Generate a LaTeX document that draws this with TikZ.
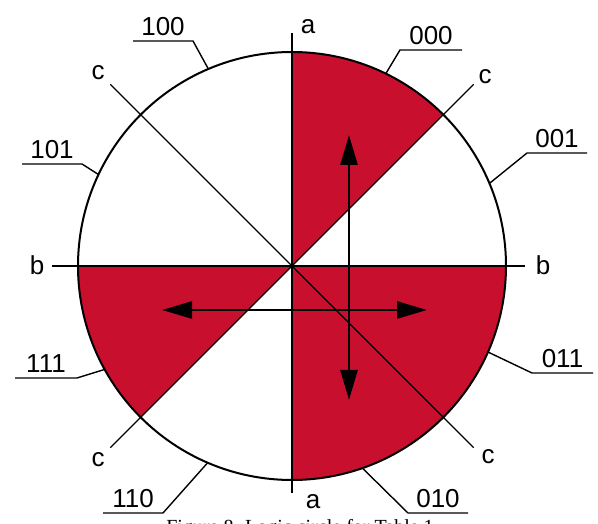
\documentclass[tikz,border=0pt]{standalone}
\usepackage{fontspec}
\setmainfont{Liberation Sans}
\newfontfamily\captionserif{Liberation Serif}
\usetikzlibrary{arrows.meta,calc}
\definecolor{logicRed}{RGB}{200,16,46}

\begin{document}
\begin{tikzpicture}[x=1pt,y=1pt,
  rim/.style={line width=2pt},
  axisline/.style={line width=1.8pt},
  cutline/.style={line width=1.3pt},
  leader/.style={line width=1.4pt},
  letter/.style={font=\fontsize{26}{26}\selectfont, inner sep=0pt},
  code/.style={font=\fontsize{26}{26}\selectfont, inner sep=0pt, above=5pt},
  move/.style={line width=2.6pt, {Triangle[length=30pt,width=17pt]}-{Triangle[length=30pt,width=17pt]}}]
  \useasboundingbox (0,0) rectangle (598,523);
  \clip (0,0) rectangle (598,523);
  \coordinate (C) at (292,257);

  % red sectors
  \fill[logicRed] (C) -- ([shift={(45:214)}]C) arc[start angle=45, end angle=90, radius=214] -- cycle;
  \fill[logicRed] (C) -- ([shift={(180:214)}]C) arc[start angle=180, end angle=225, radius=214] -- cycle;
  \fill[logicRed] (C) -- ([shift={(270:214)}]C) arc[start angle=270, end angle=360, radius=214] -- cycle;
  \draw[rim] (C) circle[radius=214];

  % a, b and c lines
  \coordinate (aTop) at (292,490);
  \coordinate (aBot) at (292,30);
  \coordinate (bLeft) at (52,257);
  \coordinate (bRight) at (525,257);
  \coordinate (cNW) at ([shift={(135:257)}]C);
  \coordinate (cSE) at ([shift={(-45:257)}]C);
  \coordinate (cNE) at ([shift={(45:257)}]C);
  \coordinate (cSW) at ([shift={(225:257)}]C);
  \draw[axisline] (aTop) -- (aBot);
  \draw[axisline] (bLeft) -- (bRight);
  \draw[cutline] (cNW) -- (cSE);
  \draw[cutline] (cSW) -- (cNE);
  \node[letter] (aUp) at (308,496) {a};
  \node[letter] (aDown) at (313,21) {a};
  \node[letter] (bW) at (37,258) {b};
  \node[letter] (bE) at (543,258) {b};
  \node[letter] (cUpL) at (98,450) {c};
  \node[letter] (cUpR) at (485,446) {c};
  \node[letter] (cDnL) at (98,63) {c};
  \node[letter] (cDnR) at (488,66) {c};

  % arrows
  \coordinate (vTop) at (349,388);
  \coordinate (vBot) at (349,123);
  \coordinate (hLeft) at (162,213);
  \coordinate (hRight) at (427,213);
  \draw[move] (vBot) -- (vTop);
  \draw[move] (hLeft) -- (hRight);

  % leader labels
  \coordinate (p100) at ([shift={(113:214)}]C);
  \coordinate (u100a) at (133,482);
  \coordinate (u100b) at (193,482);
  \draw[leader] (u100a) -- (u100b) -- (p100);
  \node[code] (t100) at ($(u100a)!0.5!(u100b)$) {100};

  \coordinate (p000) at ([shift={(64:214)}]C);
  \coordinate (u000a) at (400,473);
  \coordinate (u000b) at (462,473);
  \draw[leader] (u000b) -- (u000a) -- (p000);
  \node[code] (t000) at ($(u000a)!0.5!(u000b)$) {000};

  \coordinate (p001) at ([shift={(22.7:214)}]C);
  \coordinate (u001a) at (527,370);
  \coordinate (u001b) at (587,370);
  \draw[leader] (u001b) -- (u001a) -- (p001);
  \node[code] (t001) at ($(u001a)!0.5!(u001b)$) {001};

  \coordinate (p101) at ([shift={(154.7:214)}]C);
  \coordinate (u101a) at (22,359);
  \coordinate (u101b) at (82,359);
  \draw[leader] (u101a) -- (u101b) -- (p101);
  \node[code] (t101) at ($(u101a)!0.5!(u101b)$) {101};

  \coordinate (p111) at ([shift={(208.9:214)}]C);
  \coordinate (u111a) at (15,145);
  \coordinate (u111b) at (77,145);
  \draw[leader] (u111a) -- (u111b) -- (p111);
  \node[code] (t111) at ($(u111a)!0.5!(u111b)$) {111};

  \coordinate (p110) at ([shift={(246.8:214)}]C);
  \coordinate (u110a) at (103,10);
  \coordinate (u110b) at (163,10);
  \draw[leader] (u110a) -- (u110b) -- (p110);
  \node[code] (t110) at ($(u110a)!0.5!(u110b)$) {110};

  \coordinate (p011) at ([shift={(-23.7:214)}]C);
  \coordinate (u011a) at (532,150);
  \coordinate (u011b) at (593,150);
  \draw[leader] (u011b) -- (u011a) -- (p011);
  \node[code] (t011) at ($(u011a)!0.5!(u011b)$) {011};

  \coordinate (p010) at ([shift={(-70.8:214)}]C);
  \coordinate (u010a) at (408,10);
  \coordinate (u010b) at (468,10);
  \draw[leader] (u010b) -- (u010a) -- (p010);
  \node[code] (t010) at ($(u010a)!0.5!(u010b)$) {010};

  % caption, cut off at the bottom edge as in the scan
  \node[anchor=north, inner sep=0pt, font=\captionserif\fontsize{20}{20}\selectfont] (caption) at (300,4) {Figure 8. Logic circle for Table 1};
\end{tikzpicture}
\end{document}
